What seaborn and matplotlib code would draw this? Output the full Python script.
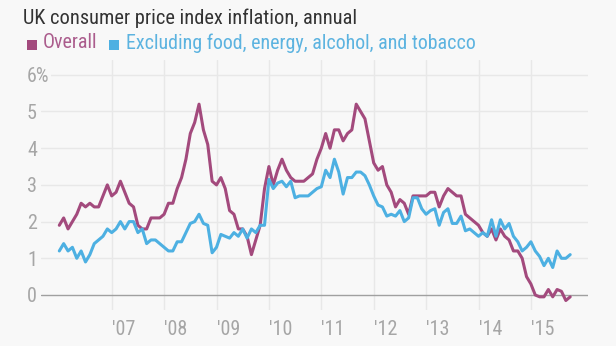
import numpy as np
import pandas as pd
import seaborn as sns
import matplotlib
matplotlib.use("Agg")
import matplotlib.pyplot as plt
from matplotlib import font_manager
from matplotlib.patches import Rectangle

# ---- data (annual % change, monthly Jan 2006 - Oct 2015) ----
start_year = 2006
overall = [
    1.9, 2.1, 1.8, 2.0, 2.2, 2.5, 2.4, 2.5, 2.4, 2.4, 2.7, 3.0,
    2.7, 2.8, 3.1, 2.8, 2.5, 2.4, 1.9, 1.8, 1.8, 2.1, 2.1, 2.1,
    2.2, 2.5, 2.5, 2.9, 3.2, 3.7, 4.4, 4.7, 5.2, 4.5, 4.1, 3.1,
    3.0, 3.2, 2.9, 2.3, 2.2, 1.8, 1.8, 1.6, 1.1, 1.5, 1.9, 2.9,
    3.5, 3.0, 3.4, 3.7, 3.4, 3.2, 3.1, 3.1, 3.1, 3.2, 3.3, 3.7,
    4.0, 4.4, 4.0, 4.5, 4.5, 4.2, 4.4, 4.5, 5.2, 5.0, 4.8, 4.2,
    3.6, 3.4, 3.5, 3.0, 2.8, 2.4, 2.6, 2.5, 2.2, 2.7, 2.7, 2.7,
    2.7, 2.8, 2.8, 2.4, 2.7, 2.9, 2.8, 2.7, 2.7, 2.2, 2.1, 2.0,
    1.9, 1.7, 1.6, 1.8, 1.5, 1.8, 1.6, 1.5, 1.2, 1.2, 1.0, 0.5,
    0.3, 0.0, -0.05, -0.05, 0.15, -0.05, 0.15, 0.1, -0.15, -0.05,
]
core = [
    1.2, 1.4, 1.2, 1.3, 1.0, 1.2, 0.9, 1.1, 1.4, 1.5, 1.6, 1.8,
    1.7, 1.8, 2.0, 1.8, 2.0, 2.0, 1.7, 1.8, 1.4, 1.5, 1.5, 1.4,
    1.3, 1.2, 1.2, 1.45, 1.45, 1.7, 1.95, 2.0, 2.2, 1.95, 1.9, 1.15,
    1.3, 1.65, 1.6, 1.55, 1.7, 1.6, 1.8, 1.55, 1.8, 1.7, 1.9, 1.9,
    3.15, 2.9, 3.05, 3.1, 2.95, 3.1, 2.65, 2.7, 2.7, 2.7, 2.8, 2.9,
    2.95, 3.4, 3.2, 3.7, 3.35, 2.75, 3.2, 3.2, 3.35, 3.35, 3.25, 3.0,
    2.7, 2.45, 2.4, 2.15, 2.2, 2.15, 2.3, 2.0, 2.1, 2.65, 2.65, 2.35,
    2.2, 2.3, 2.35, 1.9, 2.25, 2.35, 1.95, 1.95, 2.15, 1.75, 1.8, 1.7,
    1.6, 1.7, 1.6, 2.05, 1.6, 2.05, 1.8, 1.95, 1.6, 1.45, 1.2, 1.3,
    1.45, 1.2, 1.05, 0.8, 1.0, 0.75, 1.2, 1.0, 1.0, 1.1,
]
series_names = ["Overall", "Excluding food, energy, alcohol, and tobacco"]
tick_years = [2007, 2008, 2009, 2010, 2011, 2012, 2013, 2014, 2015]
tick_labels = ["'07", "'08", "'09", "'10", "'11", "'12", "'13", "'14", "'15"]
y_ticks = [0, 1, 2, 3, 4, 5, 6]
y_labels = ["0", "1", "2", "3", "4", "5", "6%"]
title = "UK consumer price index inflation, annual"

# ---- styling ----
BG = "#f8f8f8"
C_OVERALL = "#a34a7d"
C_CORE = "#4db0e2"
C_OVERALL_TXT = "#ab5d8d"
C_CORE_TXT = "#5cb3e0"
GRID = "#e8e8e8"
TICK = "#a6a6a6"

sns.set_style("white", {"axes.facecolor": BG, "figure.facecolor": BG})

available = {f.name for f in font_manager.fontManager.ttflist}
family = "Roboto"
for cand in ["Roboto Condensed", "Liberation Sans Narrow", "DejaVu Sans Condensed", "Open Sans Condensed"]:
    if cand in available:
        family = cand
        break
plt.rcParams["font.family"] = [family, "DejaVu Sans"]

n = len(overall)
x = [start_year + i / 12 for i in range(n)]
df = pd.DataFrame({
    "date": x * 2,
    "value": overall + core,
    "series": [series_names[0]] * n + [series_names[1]] * n,
})

W, H = 616, 346
DPI = 100
fig = plt.figure(figsize=(W / DPI, H / DPI), dpi=DPI)
ax_left, ax_right, ax_top, ax_bottom = 41, 588, 60, 310
ax = fig.add_axes([ax_left / W, 1 - ax_bottom / H, (ax_right - ax_left) / W, (ax_bottom - ax_top) / H])
ax.set_facecolor(BG)

# grid
for yv in y_ticks[1:]:
    ax.axhline(yv, color=GRID, lw=1.0, zorder=0)
for xv in tick_years:
    ax.axvline(xv, color=GRID, lw=1.0, zorder=0)
ax.axhline(0, color="#a0a0a0", lw=1.0, zorder=1)

sns.lineplot(data=df, x="date", y="value", hue="series",
             palette=[C_OVERALL, C_CORE], hue_order=series_names,
             linewidth=2.2, ax=ax, legend=False, zorder=3)

px_per_year = 52.4
x0 = 2007 - (111.7 - ax_left) / px_per_year
x1 = 2007 + (ax_right - 111.7) / px_per_year
ax.set_xlim(x0, x1)
unit = 36.7
ax.set_ylim(-(ax_bottom - 295) / unit, (295 - ax_top) / unit)

for s in ax.spines.values():
    s.set_visible(False)

ax.set_xticks(tick_years)
ax.set_xticklabels(tick_labels)
ax.set_yticks(y_ticks)
ax.set_yticklabels(y_labels)
ax.tick_params(axis="both", length=0, labelsize=14.5, labelcolor=TICK)
ax.tick_params(axis="y", pad=14 * 72 / DPI)
ax.tick_params(axis="x", pad=10 * 72 / DPI)
for lab in ax.get_yticklabels():
    lab.set_ha("left")
    lab.set_bbox(dict(facecolor=BG, edgecolor="none", pad=1.0))
for lab in ax.get_xticklabels():
    lab.set_ha("left")
ax.set_xlabel("")
ax.set_ylabel("")

# title & legend
fig.text(23 / W, 1 - 9 / H, title, ha="left", va="top", fontsize=14.7, color="#333333")
sq = 10
fig.patches.append(Rectangle((27 / W, 1 - 50 / H), sq / W, sq / H, transform=fig.transFigure,
                             facecolor=C_OVERALL, edgecolor="none"))
fig.text(43 / W, 1 - 43 / H, series_names[0], ha="left", va="center", fontsize=14.4, color=C_OVERALL_TXT)
fig.patches.append(Rectangle((109 / W, 1 - 50 / H), sq / W, sq / H, transform=fig.transFigure,
                             facecolor=C_CORE, edgecolor="none"))
fig.text(126 / W, 1 - 43 / H, series_names[1], ha="left", va="center", fontsize=14.4, color=C_CORE_TXT)

fig.savefig("out.png", dpi=DPI, facecolor=BG)
